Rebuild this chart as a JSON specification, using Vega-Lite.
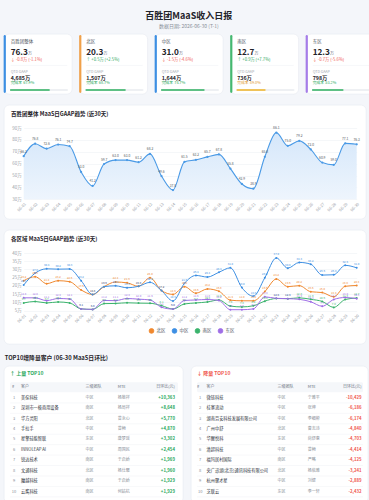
{
  "$schema": "https://vega.github.io/schema/vega-lite/v6.json",
  "background": "#f4f6fa",
  "padding": {"left": 3, "right": 4, "top": 12, "bottom": 3},
  "title": {
    "text": "百胜团MaaS收入日报",
    "subtitle": "数据日期: 2026-06-30 (T-1)",
    "anchor": "middle",
    "fontSize": 9,
    "fontWeight": "bold",
    "color": "#1f2329",
    "subtitleFontSize": 5,
    "subtitleColor": "#8a9099",
    "subtitlePadding": 2.5,
    "offset": 5
  },
  "config": {
    "font": "Noto Sans CJK SC",
    "view": {"fill": "#ffffff", "stroke": "#e6eaf0", "strokeWidth": 0.6, "cornerRadius": 5},
    "locale": {"number": {"decimal": ".", "thousands": ",", "grouping": [3], "currency": ["", ""], "minus": "-"}},
    "axis": {"domain": false, "ticks": false, "title": null, "labelColor": "#9aa0a8", "labelFontSize": 4.5, "gridColor": "#eef1f5", "gridWidth": 0.6},
    "text": {"font": "Noto Sans CJK SC"}
  },
  "resolve": {"scale": {"color": "independent", "stroke": "independent"}},
  "spacing": 9,
  "datasets": {
    "kpi": [
      {"region": "百胜团整体", "val": 76.3, "delta": -0.8, "chg": "↓ -0.8万 (-1.1%)", "qtd": "4,685万", "rate": 0.679},
      {"region": "北区", "val": 20.3, "delta": 0.5, "chg": "↑ +0.5万 (+2.5%)", "qtd": "1,507万", "rate": 0.687},
      {"region": "中区", "val": 31.0, "delta": -1.5, "chg": "↓ -1.5万 (-4.6%)", "qtd": "1,644万", "rate": 0.747},
      {"region": "南区", "val": 12.7, "delta": 0.9, "chg": "↑ +0.9万 (+7.7%)", "qtd": "736万", "rate": 0.49},
      {"region": "东区", "val": 12.3, "delta": -0.7, "chg": "↓ -0.7万 (-5.6%)", "qtd": "798万", "rate": 0.532}
    ],
    "total": [
      {"d": "06-01", "v": 66.3}, {"d": "06-02", "v": 76.8}, {"d": "06-03", "v": 72.6}, {"d": "06-04", "v": 76.1},
      {"d": "06-05", "v": 74.7}, {"d": "06-06", "v": 53.0}, {"d": "06-07", "v": 41.2}, {"d": "06-08", "v": 59.7},
      {"d": "06-09", "v": 63.0}, {"d": "06-10", "v": 63.0}, {"d": "06-11", "v": 61.2}, {"d": "06-12", "v": 68.2},
      {"d": "06-13", "v": 49.6}, {"d": "06-14", "v": 37.8}, {"d": "06-15", "v": 61.5}, {"d": "06-16", "v": 63.2},
      {"d": "06-17", "v": 65.7}, {"d": "06-18", "v": 67.8}, {"d": "06-19", "v": 55.8}, {"d": "06-20", "v": 42.9},
      {"d": "06-21", "v": 38.9}, {"d": "06-22", "v": 65.8}, {"d": "06-23", "v": 86.1}, {"d": "06-24", "v": 75.0},
      {"d": "06-25", "v": 79.2}, {"d": "06-26", "v": 72.0}, {"d": "06-27", "v": 60.9}, {"d": "06-28", "v": 59.0},
      {"d": "06-29", "v": 77.1}, {"d": "06-30", "v": 76.3}
    ],
    "regions": [
      {"d": "06-01", "r": "北区", "v": 23.2}, {"d": "06-01", "r": "中区", "v": 20.6}, {"d": "06-01", "r": "南区", "v": 9.7}, {"d": "06-01", "r": "东区", "v": 12.8},
      {"d": "06-02", "r": "北区", "v": 25.6}, {"d": "06-02", "r": "中区", "v": 27.8}, {"d": "06-02", "r": "南区", "v": 10.6}, {"d": "06-02", "r": "东区", "v": 12.8},
      {"d": "06-03", "r": "北区", "v": 21.4}, {"d": "06-03", "r": "中区", "v": 30.4}, {"d": "06-03", "r": "南区", "v": 9.7}, {"d": "06-03", "r": "东区", "v": 11.1},
      {"d": "06-04", "r": "北区", "v": 23.2}, {"d": "06-04", "r": "中区", "v": 30.2}, {"d": "06-04", "r": "南区", "v": 10.3}, {"d": "06-04", "r": "东区", "v": 12.4},
      {"d": "06-05", "r": "北区", "v": 22.6}, {"d": "06-05", "r": "中区", "v": 30.3}, {"d": "06-05", "r": "南区", "v": 9.7}, {"d": "06-05", "r": "东区", "v": 12.1},
      {"d": "06-06", "r": "北区", "v": 17.6}, {"d": "06-06", "r": "中区", "v": 23.2}, {"d": "06-06", "r": "南区", "v": 6.1}, {"d": "06-06", "r": "东区", "v": 6.1},
      {"d": "06-07", "r": "北区", "v": 14.8}, {"d": "06-07", "r": "中区", "v": 14.8}, {"d": "06-07", "r": "南区", "v": 5.8}, {"d": "06-07", "r": "东区", "v": 5.8},
      {"d": "06-08", "r": "北区", "v": 19.6}, {"d": "06-08", "r": "中区", "v": 19.6}, {"d": "06-08", "r": "南区", "v": 9.3}, {"d": "06-08", "r": "东区", "v": 11.2},
      {"d": "06-09", "r": "北区", "v": 22.4}, {"d": "06-09", "r": "中区", "v": 20.1}, {"d": "06-09", "r": "南区", "v": 9.4}, {"d": "06-09", "r": "东区", "v": 11.1},
      {"d": "06-10", "r": "北区", "v": 21.9}, {"d": "06-10", "r": "中区", "v": 18.9}, {"d": "06-10", "r": "南区", "v": 9.8}, {"d": "06-10", "r": "东区", "v": 12.4},
      {"d": "06-11", "r": "北区", "v": 19.8}, {"d": "06-11", "r": "中区", "v": 19.8}, {"d": "06-11", "r": "南区", "v": 9.6}, {"d": "06-11", "r": "东区", "v": 12.0},
      {"d": "06-12", "r": "北区", "v": 25.0}, {"d": "06-12", "r": "中区", "v": 22.2}, {"d": "06-12", "r": "南区", "v": 9.5}, {"d": "06-12", "r": "东区", "v": 11.5},
      {"d": "06-13", "r": "北区", "v": 17.2}, {"d": "06-13", "r": "中区", "v": 17.2}, {"d": "06-13", "r": "南区", "v": 8.1}, {"d": "06-13", "r": "东区", "v": 7.1},
      {"d": "06-14", "r": "北区", "v": 14.9}, {"d": "06-14", "r": "中区", "v": 10.9}, {"d": "06-14", "r": "南区", "v": 6.0}, {"d": "06-14", "r": "东区", "v": 6.0},
      {"d": "06-15", "r": "北区", "v": 19.6}, {"d": "06-15", "r": "中区", "v": 21.6}, {"d": "06-15", "r": "南区", "v": 9.1}, {"d": "06-15", "r": "东区", "v": 11.2},
      {"d": "06-16", "r": "北区", "v": 15.6}, {"d": "06-16", "r": "中区", "v": 26.4}, {"d": "06-16", "r": "南区", "v": 9.7}, {"d": "06-16", "r": "东区", "v": 11.5},
      {"d": "06-17", "r": "北区", "v": 18.2}, {"d": "06-17", "r": "中区", "v": 25.4}, {"d": "06-17", "r": "南区", "v": 10.3}, {"d": "06-17", "r": "东区", "v": 11.8},
      {"d": "06-18", "r": "北区", "v": 16.8}, {"d": "06-18", "r": "中区", "v": 28.3}, {"d": "06-18", "r": "南区", "v": 11.5}, {"d": "06-18", "r": "东区", "v": 11.2},
      {"d": "06-19", "r": "北区", "v": 11.4}, {"d": "06-19", "r": "中区", "v": 31.0}, {"d": "06-19", "r": "南区", "v": 7.8}, {"d": "06-19", "r": "东区", "v": 5.6},
      {"d": "06-20", "r": "北区", "v": 11.0}, {"d": "06-20", "r": "中区", "v": 19.0}, {"d": "06-20", "r": "南区", "v": 7.3}, {"d": "06-20", "r": "东区", "v": 5.6},
      {"d": "06-21", "r": "北区", "v": 11.0}, {"d": "06-21", "r": "中区", "v": 13.8}, {"d": "06-21", "r": "南区", "v": 8.0}, {"d": "06-21", "r": "东区", "v": 6.1},
      {"d": "06-22", "r": "北区", "v": 16.6}, {"d": "06-22", "r": "中区", "v": 25.0}, {"d": "06-22", "r": "南区", "v": 10.8}, {"d": "06-22", "r": "东区", "v": 13.4},
      {"d": "06-23", "r": "北区", "v": 24.2}, {"d": "06-23", "r": "中区", "v": 37.0}, {"d": "06-23", "r": "南区", "v": 12.4}, {"d": "06-23", "r": "东区", "v": 12.5},
      {"d": "06-24", "r": "北区", "v": 19.6}, {"d": "06-24", "r": "中区", "v": 30.8}, {"d": "06-24", "r": "南区", "v": 12.3}, {"d": "06-24", "r": "东区", "v": 12.3},
      {"d": "06-25", "r": "北区", "v": 20.2}, {"d": "06-25", "r": "中区", "v": 34.3}, {"d": "06-25", "r": "南区", "v": 12.8}, {"d": "06-25", "r": "东区", "v": 11.9},
      {"d": "06-26", "r": "北区", "v": 16.5}, {"d": "06-26", "r": "中区", "v": 33.2}, {"d": "06-26", "r": "南区", "v": 11.9}, {"d": "06-26", "r": "东区", "v": 10.4},
      {"d": "06-27", "r": "北区", "v": 16.0}, {"d": "06-27", "r": "中区", "v": 26.6}, {"d": "06-27", "r": "南区", "v": 10.6}, {"d": "06-27", "r": "东区", "v": 7.7},
      {"d": "06-28", "r": "北区", "v": 13.4}, {"d": "06-28", "r": "中区", "v": 26.8}, {"d": "06-28", "r": "南区", "v": 7.0}, {"d": "06-28", "r": "东区", "v": 11.8},
      {"d": "06-29", "r": "北区", "v": 19.8}, {"d": "06-29", "r": "中区", "v": 32.5}, {"d": "06-29", "r": "南区", "v": 11.8}, {"d": "06-29", "r": "东区", "v": 13.0},
      {"d": "06-30", "r": "北区", "v": 20.3}, {"d": "06-30", "r": "中区", "v": 31.0}, {"d": "06-30", "r": "南区", "v": 12.7}, {"d": "06-30", "r": "东区", "v": 12.3}
    ],
    "up": [
      {"rank": 1, "name": "美傢科技", "team": "中区", "mte": "杨敬祥", "delta": 10363},
      {"rank": 2, "name": "深圳市一极商用设备", "team": "南区", "mte": "杨局祥", "delta": 8648},
      {"rank": 3, "name": "华方灵阳", "team": "北区", "mte": "曾永心", "delta": 5770},
      {"rank": 4, "name": "手拉手", "team": "中区", "mte": "曾畅", "delta": 4870},
      {"rank": 5, "name": "星擎硅能智联", "team": "东区", "mte": "唐梦瑶", "delta": 3302},
      {"rank": 6, "name": "INNOLEAP AI", "team": "中区", "mte": "周国民", "delta": 2454},
      {"rank": 7, "name": "锐达技术", "team": "南区", "mte": "于启娇", "delta": 1969},
      {"rank": 8, "name": "文通科技", "team": "北区", "mte": "杨仕聚", "delta": 1960},
      {"rank": 9, "name": "魔越科技", "team": "南区", "mte": "于启娇", "delta": 1929},
      {"rank": 10, "name": "云鹰科技", "team": "南区", "mte": "何姑杭", "delta": 1929}
    ],
    "down": [
      {"rank": 1, "name": "微链科技", "team": "中区", "mte": "宁雅平", "delta": -10429},
      {"rank": 2, "name": "桂寨流动", "team": "中区", "mte": "张坤", "delta": -6186},
      {"rank": 3, "name": "湖南劳安科技发展有限公司", "team": "中区", "mte": "李细彬", "delta": -6174},
      {"rank": 4, "name": "广州中舒", "team": "北区", "mte": "曹志诗", "delta": -4840},
      {"rank": 5, "name": "华醒悦科", "team": "东区", "mte": "尚舒惠", "delta": -4703},
      {"rank": 6, "name": "清超科技", "team": "中区", "mte": "曾畅", "delta": -4414},
      {"rank": 7, "name": "福玛居村国际", "team": "南区", "mte": "严略", "delta": -4125},
      {"rank": 8, "name": "央广迅湖(北京)通讯科技有限公司", "team": "北区", "mte": "杨依雅", "delta": -3241},
      {"rank": 9, "name": "杭州聚才星", "team": "中区", "mte": "刘健", "delta": -2889},
      {"rank": 10, "name": "芝联云", "team": "东区", "mte": "李一轩", "delta": -2432}
    ]
  },
  "vconcat": [
    {
      "data": {"name": "kpi"},
      "facet": {"column": {"field": "region", "type": "nominal", "sort": ["百胜团整体", "北区", "中区", "南区", "东区"], "header": {"labels": false, "title": null}}},
      "spacing": 5.5,
      "spec": {
        "width": 68,
        "height": 60,
        "layer": [
          {
            "mark": {"type": "rule", "strokeWidth": 2.2, "strokeCap": "round"},
            "encoding": {
              "x": {"datum": -0.105, "type": "quantitative", "scale": {"domain": [-0.1186, 1.085], "nice": false, "zero": false}, "axis": null},
              "y": {"datum": 2.2, "type": "quantitative", "scale": {"domain": [0, 60], "nice": false, "zero": false, "reverse": true}, "axis": null},
              "y2": {"datum": 57.8},
              "stroke": {"field": "region", "type": "nominal", "scale": {"domain": ["百胜团整体", "北区", "中区", "南区", "东区"], "range": ["#3d8fe3", "#f0a14a", "#3d8fe3", "#45b870", "#a57ce8"]}, "legend": null}
            }
          },
          {
            "mark": {"type": "text", "align": "left", "baseline": "middle", "fontSize": 4.5, "color": "#4e5560"},
            "encoding": {
              "x": {"datum": 0, "type": "quantitative", "scale": {"domain": [-0.1186, 1.085], "nice": false, "zero": false}, "axis": null},
              "y": {"datum": 8.3, "type": "quantitative", "scale": {"domain": [0, 60], "nice": false, "zero": false, "reverse": true}, "axis": null},
              "text": {"field": "region"}
            }
          },
          {
            "mark": {"type": "text", "align": "left", "baseline": "alphabetic", "fontSize": 8.2, "fontWeight": "bold", "color": "#1f2329"},
            "encoding": {
              "x": {"datum": 0, "type": "quantitative", "scale": {"domain": [-0.1186, 1.085], "nice": false, "zero": false}, "axis": null},
              "y": {"datum": 21, "type": "quantitative", "scale": {"domain": [0, 60], "nice": false, "zero": false, "reverse": true}, "axis": null},
              "text": {"field": "val", "format": ".1f"}
            }
          },
          {
            "mark": {"type": "text", "align": "left", "baseline": "alphabetic", "fontSize": 4, "color": "#6b7280", "dx": 17.3},
            "encoding": {
              "x": {"datum": 0, "type": "quantitative", "scale": {"domain": [-0.1186, 1.085], "nice": false, "zero": false}, "axis": null},
              "y": {"datum": 21, "type": "quantitative", "scale": {"domain": [0, 60], "nice": false, "zero": false, "reverse": true}, "axis": null},
              "text": {"value": "万"}
            }
          },
          {
            "mark": {"type": "text", "align": "left", "baseline": "middle", "fontSize": 4.2},
            "encoding": {
              "x": {"datum": 0, "type": "quantitative", "scale": {"domain": [-0.1186, 1.085], "nice": false, "zero": false}, "axis": null},
              "y": {"datum": 25.8, "type": "quantitative", "scale": {"domain": [0, 60], "nice": false, "zero": false, "reverse": true}, "axis": null},
              "text": {"field": "chg"},
              "color": {"condition": {"test": "datum.delta < 0", "value": "#f05a52"}, "value": "#2aa85c"}
            }
          },
          {
            "mark": {"type": "rule", "stroke": "#eceff3", "strokeWidth": 0.5},
            "encoding": {
              "x": {"datum": 0, "type": "quantitative", "scale": {"domain": [-0.1186, 1.085], "nice": false, "zero": false}, "axis": null},
              "x2": {"datum": 1},
              "y": {"datum": 31.4, "type": "quantitative", "scale": {"domain": [0, 60], "nice": false, "zero": false, "reverse": true}, "axis": null}
            }
          },
          {
            "mark": {"type": "text", "align": "left", "baseline": "middle", "fontSize": 3.6, "color": "#a0a6ae"},
            "encoding": {
              "x": {"datum": 0, "type": "quantitative", "scale": {"domain": [-0.1186, 1.085], "nice": false, "zero": false}, "axis": null},
              "y": {"datum": 38, "type": "quantitative", "scale": {"domain": [0, 60], "nice": false, "zero": false, "reverse": true}, "axis": null},
              "text": {"value": "QTD GAAP"}
            }
          },
          {
            "mark": {"type": "text", "align": "left", "baseline": "middle", "fontSize": 5.3, "fontWeight": "bold", "color": "#1f2329"},
            "encoding": {
              "x": {"datum": 0, "type": "quantitative", "scale": {"domain": [-0.1186, 1.085], "nice": false, "zero": false}, "axis": null},
              "y": {"datum": 43.7, "type": "quantitative", "scale": {"domain": [0, 60], "nice": false, "zero": false, "reverse": true}, "axis": null},
              "text": {"field": "qtd"}
            }
          },
          {
            "mark": {"type": "text", "align": "left", "baseline": "middle", "fontSize": 3.8},
            "encoding": {
              "x": {"datum": 0, "type": "quantitative", "scale": {"domain": [-0.1186, 1.085], "nice": false, "zero": false}, "axis": null},
              "y": {"datum": 49.4, "type": "quantitative", "scale": {"domain": [0, 60], "nice": false, "zero": false, "reverse": true}, "axis": null},
              "text": {"value": "完成率"},
              "color": {"condition": {"test": "datum.rate < 0.5", "value": "#e09a2c"}, "value": "#2aa85c"}
            }
          },
          {
            "mark": {"type": "text", "align": "left", "baseline": "middle", "fontSize": 3.8, "dx": 12.6},
            "encoding": {
              "x": {"datum": 0, "type": "quantitative", "scale": {"domain": [-0.1186, 1.085], "nice": false, "zero": false}, "axis": null},
              "y": {"datum": 49.4, "type": "quantitative", "scale": {"domain": [0, 60], "nice": false, "zero": false, "reverse": true}, "axis": null},
              "text": {"field": "rate", "format": ".1%"},
              "color": {"condition": {"test": "datum.rate < 0.5", "value": "#e09a2c"}, "value": "#2aa85c"}
            }
          },
          {
            "mark": {"type": "rule", "stroke": "#e9ecf0", "strokeWidth": 1.6, "strokeCap": "round"},
            "encoding": {
              "x": {"datum": 0, "type": "quantitative", "scale": {"domain": [-0.1186, 1.085], "nice": false, "zero": false}, "axis": null},
              "x2": {"datum": 1},
              "y": {"datum": 56, "type": "quantitative", "scale": {"domain": [0, 60], "nice": false, "zero": false, "reverse": true}, "axis": null}
            }
          },
          {
            "mark": {"type": "rule", "strokeWidth": 1.6, "strokeCap": "round"},
            "encoding": {
              "x": {"field": "rate", "type": "quantitative", "scale": {"domain": [-0.1186, 1.085], "nice": false, "zero": false}, "axis": null},
              "x2": {"datum": 0},
              "y": {"datum": 56, "type": "quantitative", "scale": {"domain": [0, 60], "nice": false, "zero": false, "reverse": true}, "axis": null},
              "color": {"condition": {"test": "datum.rate < 0.5", "value": "#f0b429"}, "value": "#2fb061"}
            }
          }
        ]
      }
    },
    {
      "width": 362,
      "height": 114,
      "data": {"name": "total"},
      "title": {"text": "百胜团整体 MaaS日GAAP趋势 (近30天)", "anchor": "start", "offset": -12.5, "dx": 7, "fontSize": 5.5, "fontWeight": "bold", "color": "#1f2329"},
      "encoding": {
        "x": {"field": "d", "type": "ordinal", "scale": {"type": "point", "range": [19.7, 352.7], "padding": 0}, "axis": {"labelAngle": -45, "offset": -19.7, "labelPadding": 2.5, "labelFontSize": 4, "grid": false}},
        "y": {"field": "v", "type": "quantitative", "scale": {"domain": [30, 90], "range": [94.3, 23], "nice": false, "zero": false}, "axis": {"values": [30, 40, 50, 60, 70, 80, 90], "labelExpr": "datum.value + '万'", "offset": -19.7, "labelPadding": 2.5, "grid": true}}
      },
      "layer": [
        {
          "mark": {"type": "area", "interpolate": "monotone", "color": {"gradient": "linear", "x1": 0, "y1": 0, "x2": 0, "y2": 1, "stops": [{"offset": 0, "color": "#d5e7fa"}, {"offset": 1, "color": "#eef5fd"}]}},
          "encoding": {"y2": {"datum": 30}}
        },
        {"mark": {"type": "line", "interpolate": "monotone", "color": "#4a9ae6", "strokeWidth": 1.1}},
        {"mark": {"type": "point", "filled": true, "size": 5, "color": "#4a9ae6", "opacity": 1}},
        {
          "mark": {"type": "text", "dy": -4.5, "fontSize": 3.3, "color": "#555b63"},
          "encoding": {"text": {"field": "v", "format": ".1f"}}
        }
      ]
    },
    {
      "width": 362,
      "height": 114,
      "data": {"name": "regions"},
      "title": {"text": "各区域 MaaS日GAAP趋势 (近30天)", "anchor": "start", "offset": -12.5, "dx": 7, "fontSize": 5.5, "fontWeight": "bold", "color": "#1f2329"},
      "encoding": {
        "x": {"field": "d", "type": "ordinal", "scale": {"type": "point", "range": [19.7, 352.7], "padding": 0}, "axis": {"labelAngle": -45, "offset": -33.3, "labelPadding": 2.5, "labelFontSize": 4, "grid": false}},
        "y": {"field": "v", "type": "quantitative", "scale": {"domain": [5, 40], "range": [80.7, 23], "nice": false, "zero": false}, "axis": {"values": [5, 10, 15, 20, 25, 30, 35, 40], "labelExpr": "datum.value + '万'", "offset": -19.7, "labelPadding": 2.5, "grid": true}},
        "color": {
          "field": "r", "type": "nominal",
          "scale": {"domain": ["北区", "中区", "南区", "东区"], "range": ["#f0882e", "#3d8fe3", "#3ab36c", "#9f6ee6"]},
          "legend": {"orient": "none", "legendX": 144.5, "legendY": 97.5, "direction": "horizontal", "title": null, "symbolType": "circle", "symbolSize": 22, "symbolStrokeWidth": 0.9, "symbolFillColor": "#ffffff", "labelFontSize": 4.5, "labelColor": "#4e5560", "labelOffset": 2, "columnPadding": 4}
        }
      },
      "layer": [
        {"mark": {"type": "line", "interpolate": "monotone", "strokeWidth": 1.0}},
        {"mark": {"type": "point", "filled": true, "size": 4, "opacity": 1}},
        {
          "mark": {"type": "text", "dy": -3.6, "fontSize": 2.8},
          "encoding": {"text": {"field": "v", "format": ".1f"}}
        }
      ]
    },
    {
      "title": {"text": "TOP10增降量客户 (06-30 MaaS日环比)", "anchor": "start", "fontSize": 5.8, "fontWeight": "bold", "color": "#1f2329", "offset": 5, "dx": 1},
      "spacing": 6,
      "hconcat": [
        {
          "width": 179,
          "height": 137,
          "data": {"name": "up"},
          "title": {"text": "↑ 上量 TOP10", "anchor": "start", "offset": -10.3, "dx": 6, "fontSize": 5, "fontWeight": "bold", "color": "#2aa85c"},
          "layer": [
            {
              "data": {"values": [{}]},
              "mark": {"type": "rect", "fill": "#f5f7fa", "cornerRadius": 1.5},
              "encoding": {
                "x": {"datum": 3.4, "type": "quantitative", "scale": {"domain": [0, 100], "nice": false, "zero": false}, "axis": null},
                "x2": {"datum": 97.2},
                "y": {"datum": -0.47, "type": "quantitative", "scale": {"domain": [-2.036, 11.085], "nice": false, "zero": false, "reverse": true}, "axis": null},
                "y2": {"datum": 0.47}
              }
            },
            {
              "mark": {"type": "rule", "stroke": "#eef0f4", "strokeWidth": 0.5, "yOffset": 5.2},
              "encoding": {
                "x": {"datum": 3.4, "type": "quantitative", "scale": {"domain": [0, 100], "nice": false, "zero": false}, "axis": null},
                "x2": {"datum": 97.2},
                "y": {"field": "rank", "type": "quantitative", "scale": {"domain": [-2.036, 11.085], "nice": false, "zero": false, "reverse": true}, "axis": null}
              }
            },
            {
              "data": {"values": [{}]},
              "mark": {"type": "text", "align": "left", "baseline": "middle", "fontSize": 4, "color": "#6b7280"},
              "encoding": {
                "x": {"datum": 4.5, "type": "quantitative", "scale": {"domain": [0, 100], "nice": false, "zero": false}, "axis": null},
                "y": {"datum": 0, "type": "quantitative", "scale": {"domain": [-2.036, 11.085], "nice": false, "zero": false, "reverse": true}, "axis": null},
                "text": {"value": "#"}
              }
            },
            {
              "data": {"values": [{}]},
              "mark": {"type": "text", "align": "left", "baseline": "middle", "fontSize": 4, "color": "#6b7280"},
              "encoding": {
                "x": {"datum": 9.5, "type": "quantitative", "scale": {"domain": [0, 100], "nice": false, "zero": false}, "axis": null},
                "y": {"datum": 0, "type": "quantitative", "scale": {"domain": [-2.036, 11.085], "nice": false, "zero": false, "reverse": true}, "axis": null},
                "text": {"value": "客户"}
              }
            },
            {
              "data": {"values": [{}]},
              "mark": {"type": "text", "align": "left", "baseline": "middle", "fontSize": 4, "color": "#6b7280"},
              "encoding": {
                "x": {"datum": 45.6, "type": "quantitative", "scale": {"domain": [0, 100], "nice": false, "zero": false}, "axis": null},
                "y": {"datum": 0, "type": "quantitative", "scale": {"domain": [-2.036, 11.085], "nice": false, "zero": false, "reverse": true}, "axis": null},
                "text": {"value": "三级团队"}
              }
            },
            {
              "data": {"values": [{}]},
              "mark": {"type": "text", "align": "left", "baseline": "middle", "fontSize": 4, "color": "#6b7280"},
              "encoding": {
                "x": {"datum": 63.5, "type": "quantitative", "scale": {"domain": [0, 100], "nice": false, "zero": false}, "axis": null},
                "y": {"datum": 0, "type": "quantitative", "scale": {"domain": [-2.036, 11.085], "nice": false, "zero": false, "reverse": true}, "axis": null},
                "text": {"value": "MTE"}
              }
            },
            {
              "data": {"values": [{}]},
              "mark": {"type": "text", "align": "right", "baseline": "middle", "fontSize": 4, "color": "#6b7280"},
              "encoding": {
                "x": {"datum": 95.5, "type": "quantitative", "scale": {"domain": [0, 100], "nice": false, "zero": false}, "axis": null},
                "y": {"datum": 0, "type": "quantitative", "scale": {"domain": [-2.036, 11.085], "nice": false, "zero": false, "reverse": true}, "axis": null},
                "text": {"value": "日环比(元)"}
              }
            },
            {
              "mark": {"type": "text", "align": "center", "baseline": "middle", "fontSize": 4, "color": "#8a9099"},
              "encoding": {
                "x": {"datum": 5.6, "type": "quantitative", "scale": {"domain": [0, 100], "nice": false, "zero": false}, "axis": null},
                "y": {"field": "rank", "type": "quantitative", "scale": {"domain": [-2.036, 11.085], "nice": false, "zero": false, "reverse": true}, "axis": null},
                "text": {"field": "rank"}
              }
            },
            {
              "mark": {"type": "text", "align": "left", "baseline": "middle", "fontSize": 4.2, "color": "#2b3038"},
              "encoding": {
                "x": {"datum": 9.5, "type": "quantitative", "scale": {"domain": [0, 100], "nice": false, "zero": false}, "axis": null},
                "y": {"field": "rank", "type": "quantitative", "scale": {"domain": [-2.036, 11.085], "nice": false, "zero": false, "reverse": true}, "axis": null},
                "text": {"field": "name"}
              }
            },
            {
              "mark": {"type": "text", "align": "left", "baseline": "middle", "fontSize": 4, "color": "#8a9099"},
              "encoding": {
                "x": {"datum": 45.6, "type": "quantitative", "scale": {"domain": [0, 100], "nice": false, "zero": false}, "axis": null},
                "y": {"field": "rank", "type": "quantitative", "scale": {"domain": [-2.036, 11.085], "nice": false, "zero": false, "reverse": true}, "axis": null},
                "text": {"field": "team"}
              }
            },
            {
              "mark": {"type": "text", "align": "left", "baseline": "middle", "fontSize": 4, "color": "#8a9099"},
              "encoding": {
                "x": {"datum": 63.5, "type": "quantitative", "scale": {"domain": [0, 100], "nice": false, "zero": false}, "axis": null},
                "y": {"field": "rank", "type": "quantitative", "scale": {"domain": [-2.036, 11.085], "nice": false, "zero": false, "reverse": true}, "axis": null},
                "text": {"field": "mte"}
              }
            },
            {
              "mark": {"type": "text", "align": "right", "baseline": "middle", "fontSize": 4.3, "fontWeight": "bold", "color": "#2aa85c"},
              "encoding": {
                "x": {"datum": 95.5, "type": "quantitative", "scale": {"domain": [0, 100], "nice": false, "zero": false}, "axis": null},
                "y": {"field": "rank", "type": "quantitative", "scale": {"domain": [-2.036, 11.085], "nice": false, "zero": false, "reverse": true}, "axis": null},
                "text": {"field": "delta", "format": "+,d"}
              }
            }
          ]
        },
        {
          "width": 177,
          "height": 137,
          "data": {"name": "down"},
          "title": {"text": "↓ 降量 TOP10", "anchor": "start", "offset": -10.3, "dx": 6, "fontSize": 5, "fontWeight": "bold", "color": "#f05a52"},
          "layer": [
            {
              "data": {"values": [{}]},
              "mark": {"type": "rect", "fill": "#f5f7fa", "cornerRadius": 1.5},
              "encoding": {
                "x": {"datum": 3.4, "type": "quantitative", "scale": {"domain": [0, 100], "nice": false, "zero": false}, "axis": null},
                "x2": {"datum": 97.2},
                "y": {"datum": -0.47, "type": "quantitative", "scale": {"domain": [-2.036, 11.085], "nice": false, "zero": false, "reverse": true}, "axis": null},
                "y2": {"datum": 0.47}
              }
            },
            {
              "mark": {"type": "rule", "stroke": "#eef0f4", "strokeWidth": 0.5, "yOffset": 5.2},
              "encoding": {
                "x": {"datum": 3.4, "type": "quantitative", "scale": {"domain": [0, 100], "nice": false, "zero": false}, "axis": null},
                "x2": {"datum": 97.2},
                "y": {"field": "rank", "type": "quantitative", "scale": {"domain": [-2.036, 11.085], "nice": false, "zero": false, "reverse": true}, "axis": null}
              }
            },
            {
              "data": {"values": [{}]},
              "mark": {"type": "text", "align": "left", "baseline": "middle", "fontSize": 4, "color": "#6b7280"},
              "encoding": {
                "x": {"datum": 3.4, "type": "quantitative", "scale": {"domain": [0, 100], "nice": false, "zero": false}, "axis": null},
                "y": {"datum": 0, "type": "quantitative", "scale": {"domain": [-2.036, 11.085], "nice": false, "zero": false, "reverse": true}, "axis": null},
                "text": {"value": "#"}
              }
            },
            {
              "data": {"values": [{}]},
              "mark": {"type": "text", "align": "left", "baseline": "middle", "fontSize": 4, "color": "#6b7280"},
              "encoding": {
                "x": {"datum": 8.8, "type": "quantitative", "scale": {"domain": [0, 100], "nice": false, "zero": false}, "axis": null},
                "y": {"datum": 0, "type": "quantitative", "scale": {"domain": [-2.036, 11.085], "nice": false, "zero": false, "reverse": true}, "axis": null},
                "text": {"value": "客户"}
              }
            },
            {
              "data": {"values": [{}]},
              "mark": {"type": "text", "align": "left", "baseline": "middle", "fontSize": 4, "color": "#6b7280"},
              "encoding": {
                "x": {"datum": 48.9, "type": "quantitative", "scale": {"domain": [0, 100], "nice": false, "zero": false}, "axis": null},
                "y": {"datum": 0, "type": "quantitative", "scale": {"domain": [-2.036, 11.085], "nice": false, "zero": false, "reverse": true}, "axis": null},
                "text": {"value": "三级团队"}
              }
            },
            {
              "data": {"values": [{}]},
              "mark": {"type": "text", "align": "left", "baseline": "middle", "fontSize": 4, "color": "#6b7280"},
              "encoding": {
                "x": {"datum": 65.9, "type": "quantitative", "scale": {"domain": [0, 100], "nice": false, "zero": false}, "axis": null},
                "y": {"datum": 0, "type": "quantitative", "scale": {"domain": [-2.036, 11.085], "nice": false, "zero": false, "reverse": true}, "axis": null},
                "text": {"value": "MTE"}
              }
            },
            {
              "data": {"values": [{}]},
              "mark": {"type": "text", "align": "right", "baseline": "middle", "fontSize": 4, "color": "#6b7280"},
              "encoding": {
                "x": {"datum": 96.4, "type": "quantitative", "scale": {"domain": [0, 100], "nice": false, "zero": false}, "axis": null},
                "y": {"datum": 0, "type": "quantitative", "scale": {"domain": [-2.036, 11.085], "nice": false, "zero": false, "reverse": true}, "axis": null},
                "text": {"value": "日环比(元)"}
              }
            },
            {
              "mark": {"type": "text", "align": "center", "baseline": "middle", "fontSize": 4, "color": "#8a9099"},
              "encoding": {
                "x": {"datum": 5.2, "type": "quantitative", "scale": {"domain": [0, 100], "nice": false, "zero": false}, "axis": null},
                "y": {"field": "rank", "type": "quantitative", "scale": {"domain": [-2.036, 11.085], "nice": false, "zero": false, "reverse": true}, "axis": null},
                "text": {"field": "rank"}
              }
            },
            {
              "mark": {"type": "text", "align": "left", "baseline": "middle", "fontSize": 4.2, "color": "#2b3038"},
              "encoding": {
                "x": {"datum": 8.8, "type": "quantitative", "scale": {"domain": [0, 100], "nice": false, "zero": false}, "axis": null},
                "y": {"field": "rank", "type": "quantitative", "scale": {"domain": [-2.036, 11.085], "nice": false, "zero": false, "reverse": true}, "axis": null},
                "text": {"field": "name"}
              }
            },
            {
              "mark": {"type": "text", "align": "left", "baseline": "middle", "fontSize": 4, "color": "#8a9099"},
              "encoding": {
                "x": {"datum": 48.9, "type": "quantitative", "scale": {"domain": [0, 100], "nice": false, "zero": false}, "axis": null},
                "y": {"field": "rank", "type": "quantitative", "scale": {"domain": [-2.036, 11.085], "nice": false, "zero": false, "reverse": true}, "axis": null},
                "text": {"field": "team"}
              }
            },
            {
              "mark": {"type": "text", "align": "left", "baseline": "middle", "fontSize": 4, "color": "#8a9099"},
              "encoding": {
                "x": {"datum": 65.9, "type": "quantitative", "scale": {"domain": [0, 100], "nice": false, "zero": false}, "axis": null},
                "y": {"field": "rank", "type": "quantitative", "scale": {"domain": [-2.036, 11.085], "nice": false, "zero": false, "reverse": true}, "axis": null},
                "text": {"field": "mte"}
              }
            },
            {
              "mark": {"type": "text", "align": "right", "baseline": "middle", "fontSize": 4.3, "fontWeight": "bold", "color": "#f05a52"},
              "encoding": {
                "x": {"datum": 96.4, "type": "quantitative", "scale": {"domain": [0, 100], "nice": false, "zero": false}, "axis": null},
                "y": {"field": "rank", "type": "quantitative", "scale": {"domain": [-2.036, 11.085], "nice": false, "zero": false, "reverse": true}, "axis": null},
                "text": {"field": "delta", "format": ",d"}
              }
            }
          ]
        }
      ]
    }
  ]
}
